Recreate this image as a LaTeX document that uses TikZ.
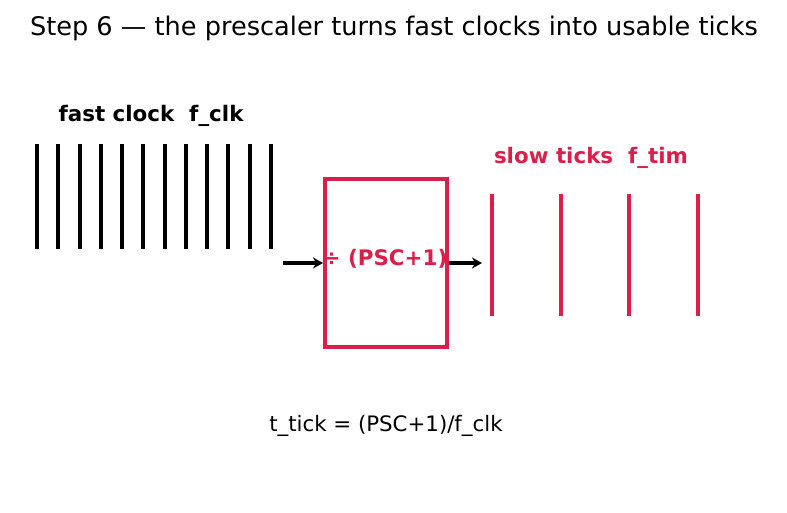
\documentclass[tikz,border=0pt]{standalone}
\usepackage{fontspec}
\setmainfont{DejaVu Sans}
\usetikzlibrary{arrows.meta}
\definecolor{crim}{HTML}{DC1E4B}
\tikzset{
  fastbar/.style={line width=4pt, black},
  slowbar/.style={line width=4pt, crim},
  flow/.style={line width=3.5pt, -{Stealth[length=10pt,width=11pt]}},
  lbl/.style={font=\fontsize{21.4}{25}\selectfont\bfseries, inner sep=0pt},
}
\begin{document}
\begin{tikzpicture}[x=1pt,y=-1pt]
\useasboundingbox (0,0) rectangle (787,512);
\node[font=\fontsize{25.6}{30}\selectfont, inner sep=0pt] (title) at (394,28) {Step 6 — the prescaler turns fast clocks into usable ticks};
\node[lbl] (fastlbl) at (151,116) {fast clock\ \ f\_clk};
\node[lbl, text=crim] (slowlbl) at (591,158) {slow ticks\ \ f\_tim};
\foreach \i in {0,...,11} {
  \draw[fastbar] ({37+\i*21.27},144) -- ({37+\i*21.27},249);
}
\foreach \x in {492,561,629,698} {
  \draw[slowbar] (\x,194) -- (\x,316);
}
\node[draw=crim, line width=4pt, minimum width=122pt, minimum height=168pt, inner sep=0pt] (box) at (386,263) {};
\node[lbl, text=crim] (div) at (385,259) {÷ (PSC+1)};
\coordinate (in) at (283,263);
\coordinate (out) at (482,263);
\draw[flow] (in) -- (box.west);
\draw[flow] (box.east) -- (out);
\node[font=\fontsize{21.3}{25}\selectfont, inner sep=0pt] (formula) at (386,426) {t\_tick = (PSC+1)/f\_clk};
\end{tikzpicture}
\end{document}
